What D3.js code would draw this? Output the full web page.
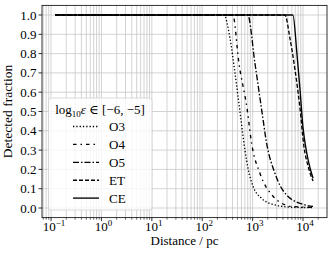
<!DOCTYPE html>
<html>
<head>
<meta charset="utf-8">
<script src="https://cdn.jsdelivr.net/npm/d3@7"></script>
<style>
body { margin: 0; background: #fff; }
</style>
</head>
<body>
<div id="chart"></div>
<script>
// distances in pc, detected fraction
var o3Dist = [0.12, 270, 355, 446, 560, 704, 818, 1028, 1510, 2770, 5940, 15800];
var o3Frac = [1.0, 1.0, 0.88, 0.70, 0.50, 0.30, 0.20, 0.11, 0.05, 0.016, 0.004, 0.002];
var o4Dist = [0.12, 405, 535, 781, 955, 1396, 2564, 5940, 15800];
var o4Frac = [1.0, 1.0, 0.75, 0.51, 0.335, 0.18, 0.06, 0.008, 0.003];
var o5Dist = [0.12, 800, 1111, 1510, 1897, 2770, 4727, 10900, 15800];
var o5Frac = [1.0, 1.0, 0.75, 0.51, 0.335, 0.18, 0.067, 0.016, 0.008];
var etDist = [0.12, 4375, 5500, 6900, 8680, 10420, 12500, 15800];
var etFrac = [1.0, 1.0, 0.88, 0.72, 0.52, 0.32, 0.22, 0.14];
var ceDist = [0.12, 6300, 7570, 8680, 9960, 11780, 13700, 15800];
var ceFrac = [1.0, 1.0, 0.80, 0.62, 0.42, 0.29, 0.21, 0.155];

var names = ["O3", "O4", "O5", "ET", "CE"];
var yTicks = [0.0, 0.1, 0.2, 0.3, 0.4, 0.5, 0.6, 0.7, 0.8, 0.9, 1.0];
var xExps = [-1, 0, 1, 2, 3, 4];

var W = 332, H = 256;
var p = {l: 42, r: 327, t: 5.35, b: 217.65};
var FONT = '"Liberation Serif", "Times New Roman", "DejaVu Serif", serif';

var svg = d3.select('#chart').append('svg')
			.attr('width', W)
			.attr('height', H)
			.attr('font-family', FONT)
			.style('font-family', FONT);

var x = d3.scaleLog()
			.domain([Math.pow(10, -1.18), Math.pow(10, 4.476)])
			.range([p.l, p.r]);
var y = d3.scaleLinear()
			.domain([-0.05, 1.05])
			.range([p.b, p.t]);

var series = [
	{name: names[0], d: o3Dist, f: o3Frac, dash: "1.3,2"},
	{name: names[1], d: o4Dist, f: o4Frac, dash: "3.5,4,1.5,4"},
	{name: names[2], d: o5Dist, f: o5Frac, dash: "6,2,1.5,2"},
	{name: names[3], d: etDist, f: etFrac, dash: "4,2"},
	{name: names[4], d: ceDist, f: ceFrac, dash: null}
];

// ticks
var majors = xExps.map(e => Math.pow(10, e));
var minors = [];
for (var e = -2; e <= 4; e++) {
	for (var k = 2; k <= 9; k++) {
		var v = k * Math.pow(10, e);
		if (v >= x.domain()[0] && v <= x.domain()[1]) minors.push(v);
	}
}

// grid
var grid = svg.append('g').attr('stroke', '#c8c8c8').attr('stroke-width', 0.8);
grid.selectAll('line.gx')
	.data(majors.concat(minors))
	.enter().append('line')
		.attr('x1', d => x(d)).attr('x2', d => x(d))
		.attr('y1', p.t).attr('y2', p.b);
grid.selectAll('line.gy')
	.data(yTicks)
	.enter().append('line')
		.attr('x1', p.l).attr('x2', p.r)
		.attr('y1', d => y(d)).attr('y2', d => y(d));

// curves
var line = d3.line()
			.x(d => x(d[0]))
			.y(d => y(d[1]))
			.curve(d3.curveMonotoneX);

svg.append('g')
	.selectAll('path')
	.data(series)
	.enter()
	.append('path')
		.attr('fill', 'none')
		.attr('stroke', '#000')
		.attr('stroke-width', 1.35)
		.attr('stroke-dasharray', d => d.dash)
		.attr('d', d => line(d.d.map((v, i) => [v, d.f[i]])));

// frame
svg.append('rect')
	.attr('x', p.l).attr('y', p.t)
	.attr('width', p.r - p.l).attr('height', p.b - p.t)
	.attr('fill', 'none').attr('stroke', '#000').attr('stroke-width', 0.8);

// x axis
var xa = svg.append('g').attr('stroke', '#000').attr('stroke-width', 0.8);
xa.selectAll('line.maj').data(majors).enter().append('line')
	.attr('x1', d => x(d)).attr('x2', d => x(d))
	.attr('y1', p.b).attr('y2', p.b + 3.5);
xa.selectAll('line.min').data(minors).enter().append('line')
	.attr('stroke-width', 0.6)
	.attr('x1', d => x(d)).attr('x2', d => x(d))
	.attr('y1', p.b).attr('y2', p.b + 2);

var xl = svg.append('g').attr('font-size', 13).attr('fill', '#000');
xExps.forEach(function(ex) {
	var t = xl.append('text')
		.attr('x', x(Math.pow(10, ex)) + (ex < 0 ? 3 : 2))
		.attr('y', 231)
		.attr('text-anchor', 'middle');
	t.append('tspan').text('10');
	t.append('tspan').attr('font-size', 9).attr('dy', -5)
		.text(ex < 0 ? '\u2212' + Math.abs(ex) : String(ex));
});

// y axis
var ya = svg.append('g');
ya.selectAll('line').data(yTicks).enter().append('line')
	.attr('stroke', '#000').attr('stroke-width', 0.8)
	.attr('x1', p.l - 3.5).attr('x2', p.l)
	.attr('y1', d => y(d)).attr('y2', d => y(d));
ya.selectAll('text').data(yTicks).enter().append('text')
	.attr('x', p.l - 5.5)
	.attr('y', d => y(d) + 4.5)
	.attr('text-anchor', 'end')
	.attr('font-size', 13)
	.text(d => d.toFixed(1));

// axis labels
svg.append('text')
	.attr('x', (p.l + p.r) / 2).attr('y', 245)
	.attr('text-anchor', 'middle')
	.attr('font-size', 13)
	.text('Distance / pc');
svg.append('text')
	.attr('transform', 'translate(12,' + ((p.t + p.b) / 2) + ') rotate(-90)')
	.attr('text-anchor', 'middle')
	.attr('font-size', 13.5)
	.text('Detected fraction');

// legend
var lg = svg.append('g');
lg.append('rect')
	.attr('x', 48.5).attr('y', 98)
	.attr('width', 103.5).attr('height', 112)
	.attr('rx', 3)
	.attr('fill', '#fff').attr('fill-opacity', 0.8)
	.attr('stroke', '#d0d0d0').attr('stroke-width', 0.8);
var title = lg.append('text')
	.attr('x', 100).attr('y', 114)
	.attr('text-anchor', 'middle')
	.attr('font-size', 13);
title.append('tspan').text('log');
title.append('tspan').attr('font-size', 9).attr('dy', 3).text('10');
title.append('tspan').attr('dy', -3).attr('font-style', 'italic').text('\u03b5');
title.append('tspan').text(' \u2208 [\u22126, \u22125]');

var rows = lg.selectAll('g.row')
	.data(series)
	.enter().append('g')
		.attr('transform', (d, i) => 'translate(0,' + (126.5 + i * 17.9) + ')');
rows.append('line')
	.attr('x1', 73).attr('x2', 99)
	.attr('stroke', '#000').attr('stroke-width', 1.35)
	.attr('stroke-dasharray', d => d.dash);
rows.append('text')
	.attr('x', 109).attr('y', 4.5)
	.attr('font-size', 13)
	.text(d => d.name);
</script>
</body>
</html>
